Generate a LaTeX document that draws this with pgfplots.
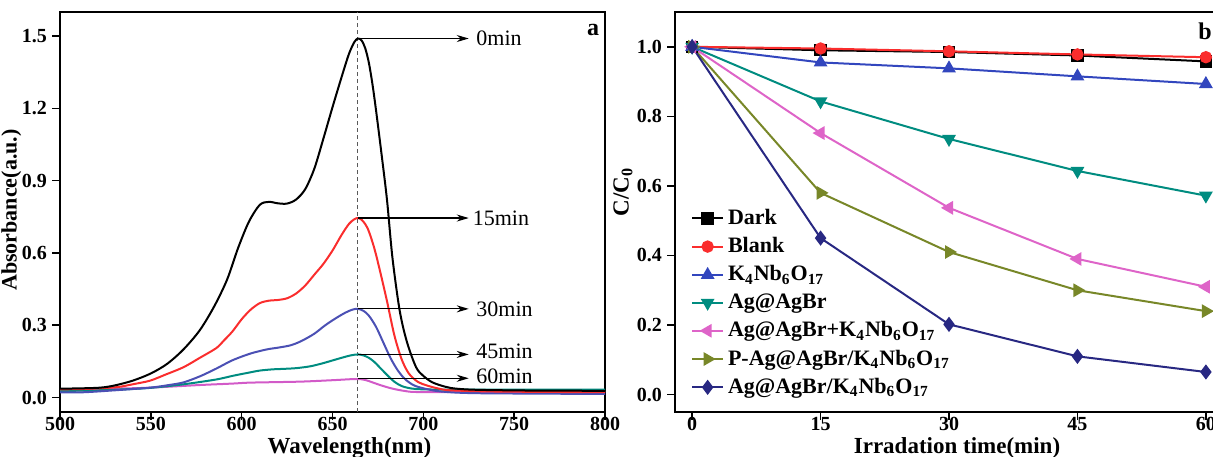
\documentclass[border=0pt]{standalone}
\usepackage{pgfplots}
\pgfplotsset{compat=1.18}
\usepackage{fontspec}
\setmainfont{Liberation Serif}
\usetikzlibrary{arrows.meta}
\definecolor{cRed}{RGB}{250,45,45}
\definecolor{cBlue}{RGB}{75,80,180}
\definecolor{cTeal}{RGB}{0,140,128}
\definecolor{cMag}{RGB}{210,90,200}
\definecolor{kBlue}{RGB}{50,70,190}
\definecolor{kPink}{RGB}{222,100,200}
\definecolor{kOlive}{RGB}{120,135,40}
\definecolor{kNavy}{RGB}{40,40,130}
\pgfplotsset{
  common/.style={
    scale only axis,
    axis line style={line width=1pt},
    tick align=outside,
    xtick pos=bottom, ytick pos=left,
    major tick length=4pt,
    tick style={line width=0.8pt,black},
    /pgf/number format/assume math mode=true,
    tick label style={font=\fontsize{10}{12}\selectfont\bfseries},
    xticklabel style={yshift=5pt},
    yticklabel style={xshift=1pt},
    label style={font=\fontsize{11.5}{13}\selectfont\bfseries},
    clip=true,
  }
}
\begin{document}
\begin{tikzpicture}
\useasboundingbox (0,0) rectangle (606.5pt,228pt);
\clip (0,0) rectangle (606.5pt,228pt);
% ---------------- panel a ----------------
\begin{axis}[common,
  at={(30pt,22pt)}, anchor=south west,
  width=272.5pt, height=200pt,
  xmin=500, xmax=800, ymin=-0.06, ymax=1.6,
  xtick={500,550,...,800},
  ytick={0,0.3,0.6,0.9,1.2,1.5},
  yticklabel style={/pgf/number format/fixed,/pgf/number format/fixed zerofill,/pgf/number format/precision=1},
  xlabel={Wavelength(nm)}, ylabel={Absorbance(a.u.)},
  xlabel style={at={(rel axis cs:0.5,0)}, anchor=center, yshift=-18pt, xshift=8.5pt},
  ylabel style={at={(rel axis cs:0,0.505)}, anchor=center, yshift=24.3pt, font=\fontsize{11}{13}\selectfont\bfseries},
]
\addplot[black!65, line width=0.5pt, dash pattern=on 2pt off 1.5pt] coordinates {(664,-0.06) (664,1.6)};
\addplot[cMag, line width=1pt, smooth] coordinates {
(500,0.033) (530,0.037) (549.5,0.041) (577,0.052) (595,0.058) (605,0.062) (632,0.066) (650,0.072) (663,0.077) (668,0.073) (672,0.063) (677,0.050) (683,0.037) (690,0.027) (696,0.023) (720,0.022) (800,0.022)};
\addplot[cTeal, line width=1pt, smooth] coordinates {
(500,0.027) (520,0.030) (535,0.034) (549.5,0.040) (568,0.055) (586,0.075) (595,0.090) (605,0.105) (610,0.112) (617,0.117) (623,0.119) (630,0.122) (638,0.130) (645,0.143) (650,0.154) (656,0.167) (660,0.175) (664,0.179) (667,0.175) (670,0.165) (673,0.148) (676,0.125) (680,0.094) (684,0.066) (688,0.048) (693,0.038) (700,0.034) (720,0.033) (800,0.033)};
\addplot[cBlue, line width=1pt, smooth] coordinates {
(500,0.022) (513,0.022) (530,0.030) (549.5,0.041) (560,0.052) (568,0.063) (577,0.088) (586,0.120) (595,0.155) (605,0.183) (614,0.200) (620,0.207) (627,0.217) (633,0.235) (640,0.265) (646,0.300) (652,0.330) (657,0.352) (661,0.365) (664,0.368) (667,0.360) (670,0.340) (674,0.293) (678,0.228) (682,0.163) (686,0.112) (690,0.076) (695,0.050) (702,0.035) (710,0.025) (730,0.018) (800,0.015)};
\addplot[cRed, line width=1pt, smooth] coordinates {
(500,0.034) (515,0.036) (531,0.043) (540,0.055) (549.5,0.070) (558,0.095) (568,0.126) (577,0.165) (586,0.205) (590,0.235) (595,0.275) (600,0.325) (605,0.365) (610,0.392) (615,0.402) (620,0.405) (625,0.412) (630,0.432) (635,0.465) (640,0.510) (645,0.555) (650,0.610) (655,0.675) (659,0.720) (662,0.740) (664,0.745) (666,0.738) (668,0.720) (670,0.690) (673,0.620) (676,0.530) (680,0.400) (684,0.260) (688,0.160) (692,0.100) (697,0.065) (702,0.050) (708,0.038) (715,0.030) (740,0.025) (800,0.022)};
\addplot[black, line width=1pt, smooth] coordinates {
(500,0.037) (510,0.038) (522,0.041) (530,0.050) (540,0.070) (550,0.100) (559,0.140) (568,0.200) (577,0.280) (585,0.380) (592,0.490) (598,0.620) (604,0.730) (610,0.800) (615,0.812) (620,0.806) (625,0.805) (630,0.822) (635,0.865) (640,0.950) (645,1.075) (650,1.205) (655,1.330) (659,1.425) (662,1.475) (664,1.490) (666,1.482) (668,1.450) (670,1.390) (672,1.300) (674,1.190) (677,1.010) (680,0.820) (683,0.580) (687,0.360) (691,0.230) (696,0.126) (700,0.090) (705,0.063) (712,0.045) (718,0.037) (730,0.032) (760,0.029) (800,0.028)};
% arrows
\addplot[black, line width=0.6pt, -{Stealth[length=6pt,width=3.5pt]}] coordinates {(664,1.49) (725,1.49)};
\addplot[black, line width=0.6pt, -{Stealth[length=6pt,width=3.5pt]}] coordinates {(664,0.745) (725,0.745)};
\addplot[black, line width=0.6pt, -{Stealth[length=6pt,width=3.5pt]}] coordinates {(664,0.368) (725,0.368)};
\addplot[black, line width=0.6pt, -{Stealth[length=6pt,width=3.5pt]}] coordinates {(664,0.179) (725,0.179)};
\addplot[black, line width=0.6pt, -{Stealth[length=6pt,width=3.5pt]}] coordinates {(664,0.08) (725,0.08)};
\begin{scope}[every node/.style={font=\fontsize{11}{13}\selectfont, anchor=west, inner sep=0pt}]
\node at (axis cs:729,1.49) {0min};
\node at (axis cs:727,0.745) {15min};
\node at (axis cs:729,0.368) {30min};
\node at (axis cs:729,0.19) {45min};
\node at (axis cs:729,0.09) {60min};
\end{scope}
\node[font=\fontsize{12}{14}\selectfont\bfseries] at (rel axis cs:0.978,0.955) {a};
\end{axis}
% ---------------- panel b ----------------
\begin{axis}[common,
  at={(337.5pt,22pt)}, anchor=south west,
  width=274pt, height=200pt,
  xmin=-2, xmax=62, ymin=-0.05, ymax=1.1,
  xtick={0,15,30,45,60},
  ytick={0,0.2,0.4,0.6,0.8,1.0},
  yticklabel style={/pgf/number format/fixed,/pgf/number format/fixed zerofill,/pgf/number format/precision=1},
  xlabel={Irradation time(min)}, ylabel={C/C\textsubscript{0}},
  xlabel style={at={(rel axis cs:0.5,0)}, anchor=center, yshift=-18pt, xshift=4pt},
  ylabel style={at={(rel axis cs:0,0.55)}, anchor=center, yshift=26pt},
  clip=false,
  every axis plot/.append style={line width=1pt, mark size=2.6pt},
  legend style={draw=none, fill=none, at={(0.018,0.528)}, anchor=north west,
    font=\fontsize{11}{13}\selectfont\bfseries, row sep=1pt,
    legend cell align=left},
  legend image code/.code={\draw[mark repeat=2,mark phase=2] plot coordinates {(0cm,0cm) (0.27cm,0cm) (0.54cm,0cm)};},
]
\addplot[black, mark=square*] coordinates {(0,1) (15,0.99) (30,0.985) (45,0.975) (60,0.958)};
\addlegendentry{Dark}
\addplot[cRed, mark=*] coordinates {(0,1) (15,0.995) (30,0.987) (45,0.978) (60,0.970)};
\addlegendentry{Blank}
\addplot[kBlue, mark=triangle*, mark size=3pt] coordinates {(0,1) (15,0.955) (30,0.938) (45,0.915) (60,0.893)};
\addlegendentry{K\textsubscript{4}Nb\textsubscript{6}O\textsubscript{17}}
\addplot[cTeal, mark=triangle*, mark size=3pt, every mark/.append style={rotate=180}] coordinates {(0,1) (15,0.843) (30,0.735) (45,0.643) (60,0.572)};
\addlegendentry{Ag@AgBr}
\addplot[kPink, mark=triangle*, mark size=3pt, every mark/.append style={rotate=90}] coordinates {(0,1) (15,0.752) (30,0.537) (45,0.390) (60,0.310)};
\addlegendentry{Ag@AgBr+K\textsubscript{4}Nb\textsubscript{6}O\textsubscript{17}}
\addplot[kOlive, mark=triangle*, mark size=3pt, every mark/.append style={rotate=-90}] coordinates {(0,1) (15,0.580) (30,0.410) (45,0.300) (60,0.240)};
\addlegendentry{P-Ag@AgBr/K\textsubscript{4}Nb\textsubscript{6}O\textsubscript{17}}
\addplot[kNavy, mark=diamond*, mark size=3pt] coordinates {(0,1) (15,0.450) (30,0.202) (45,0.110) (60,0.065)};
\addlegendentry{Ag@AgBr/K\textsubscript{4}Nb\textsubscript{6}O\textsubscript{17}}
\node[font=\fontsize{12}{14}\selectfont\bfseries] at (axis cs:59.9,1.045) {b};
\end{axis}
\end{tikzpicture}
\end{document}
